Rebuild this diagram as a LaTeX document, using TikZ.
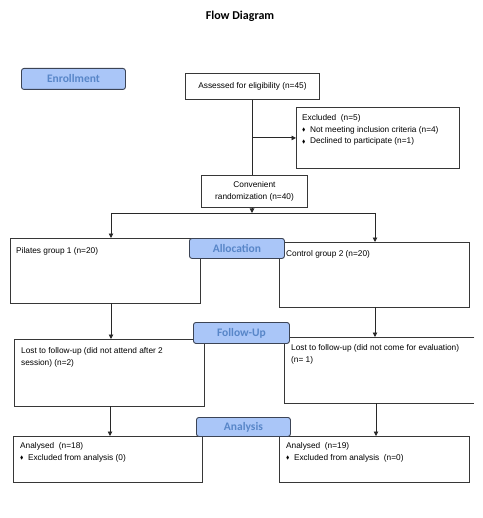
\documentclass[tikz,border=0pt]{standalone}
\usepackage{fontspec}
\setmainfont{Liberation Sans}
\newfontfamily\calib{Carlito}
\usepackage{amssymb}
\usetikzlibrary{arrows.meta}
\definecolor{boxgray}{RGB}{55,55,55}
\definecolor{linegray}{RGB}{40,40,40}
\definecolor{phasefill}{RGB}{170,198,248}
\definecolor{phaseborder}{RGB}{60,68,85}
\definecolor{phasetext}{RGB}{88,134,200}
\newcommand{\bul}{\raisebox{0.6pt}{\scalebox{0.6}{$\blacklozenge$}}\hspace{4.5pt}}
\begin{document}
\begin{tikzpicture}[x=1pt,y=-1pt,
  box/.style={draw=boxgray, line width=0.9pt, inner sep=0pt, anchor=north west, rectangle},
  phase/.style={draw=phaseborder, fill=phasefill, rounded corners=2.5pt, line width=0.9pt, inner sep=0pt, anchor=north west,
     font=\calib\bfseries\fontsize{11.5}{13}\selectfont, text=phasetext},
  txt/.style={anchor=north west, inner sep=0pt, font=\fontsize{8.3}{11.8}\selectfont, align=left},
  ctxt/.style={inner sep=0pt, font=\fontsize{8.3}{11.8}\selectfont, align=center},
  conn/.style={draw=linegray, line width=0.9pt},
  arr/.style={conn, -{Triangle[length=4.5pt,width=4.5pt]}}]
\useasboundingbox (0,0) rectangle (482,518);
\node[font=\calib\bfseries\fontsize{12}{14}\selectfont] (title) at (240,16) {Flow Diagram};

% boxes
\node[box, minimum width=134pt, minimum height=26pt] (assess) at (185,73) {};
\node[ctxt] (assesst) at (assess.center) {Assessed for eligibility (n=45)};
\node[box, minimum width=163pt, minimum height=61pt] (excl) at (296,107) {};
\node[txt] (exclt) at (302,114) {Excluded\ \ (n=5)\\\bul Not meeting inclusion criteria (n=4)\\\bul Declined to participate (n=1)};
\node[box, minimum width=106pt, minimum height=32pt] (rand) at (201,175) {};
\node[ctxt] (randt) at (rand.center) {Convenient\\randomization (n=40)};
\node[box, minimum width=190pt, minimum height=65pt] (pil) at (10,238) {};
\node[txt] (pilt) at (16,247) {Pilates group 1 (n=20)};
\node[box, minimum width=190pt, minimum height=65pt] (ctrl) at (279,242) {};
\node[txt] (ctrlt) at (286,250) {Control group 2 (n=20)};
\node[box, minimum width=190pt, minimum height=67pt] (lostL) at (14,339) {};
\node[txt] (lostLt) at (21,347) {Lost to follow-up (did not attend after 2\\session) (n=2)};
\node[inner sep=0pt, anchor=north west, minimum width=190pt, minimum height=66pt] (lostR) at (284,337) {};
\draw[draw=boxgray, line width=0.9pt] (lostR.north east) -- (lostR.north west) -- (lostR.south west) -- (lostR.south east);
\node[txt] (lostRt) at (291,344) {Lost to follow-up (did not come for evaluation)\\(n= 1)};
\node[box, minimum width=189pt, minimum height=46pt] (anL) at (13,436) {};
\node[txt] (anLt) at (20,442) {Analysed\ \ (n=18)\\\bul Excluded from analysis (0)};
\node[box, minimum width=190pt, minimum height=46pt] (anR) at (279,436) {};
\node[txt] (anRt) at (286,442) {Analysed\ \ (n=19)\\\bul Excluded from analysis\ \ (n=0)};

% connectors
\coordinate (j) at (252,213);
\coordinate (jl) at (111,213);
\coordinate (jr) at (375,213);
\draw[conn] (assess.south) -- (assess.south |- rand.north);
\draw[arr] (assess.south |- excl.west) -- (excl.west);
\draw[arr] (rand.south -| j) -- (j);
\draw[conn] (jl) -- (jr);
\draw[arr] (jl) -- (jl |- pil.north);
\draw[arr] (jr) -- (jr |- ctrl.north);
\coordinate (p1) at (111,303);
\coordinate (c1) at (375,307);
\draw[arr] (p1) -- (p1 |- lostL.north);
\draw[arr] (c1) -- (c1 |- lostR.north);
\coordinate (l1) at (110,406);
\coordinate (r1) at (376,403);
\draw[arr] (l1) -- (l1 |- anL.north);
\draw[arr] (r1) -- (r1 |- anR.north);

% phase labels
\node[phase, minimum width=104pt, minimum height=21pt] (enroll) at (21,68) {Enrollment};
\node[phase, minimum width=95pt, minimum height=20pt] (alloc) at (189,238) {Allocation};
\node[phase, minimum width=96pt, minimum height=21pt] (fol) at (193,322) {Follow-Up};
\node[phase, minimum width=94pt, minimum height=19pt] (ana) at (196,417) {Analysis};
\end{tikzpicture}
\end{document}
